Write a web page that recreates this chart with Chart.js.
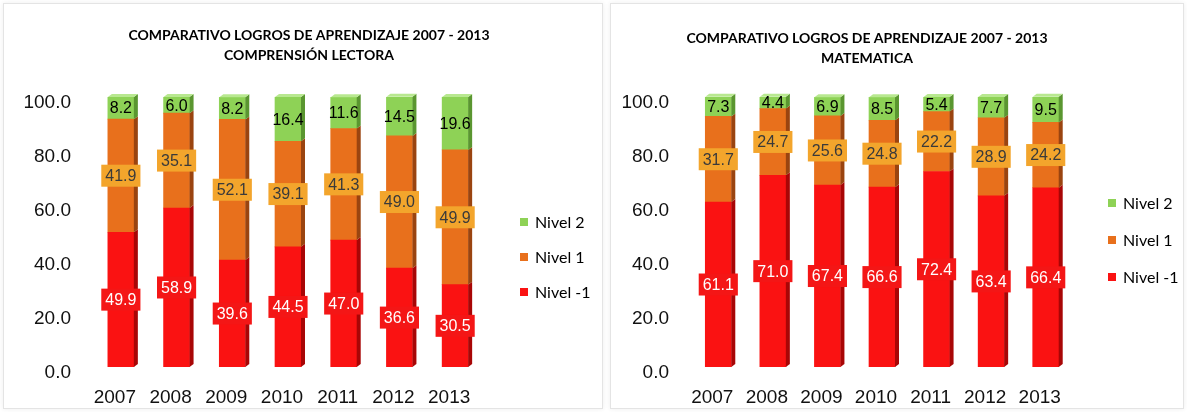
<!DOCTYPE html>
<html lang="es">
<head>
<meta charset="utf-8">
<title>Comparativo logros de aprendizaje 2007 - 2013</title>
<script src="https://cdn.jsdelivr.net/npm/chart.js@4.4.1/dist/chart.umd.min.js"></script>
<style>
  html, body { margin: 0; padding: 0; background: #fff; }
  body { width: 1187px; height: 412px; position: relative; overflow: hidden; }
  .marco { position: absolute; border: 1px solid #e4e4e4; box-shadow: 0 0 5px rgba(0,0,0,0.07); background: #fff; }
  .grafico { position: absolute; top: 0; height: 412px; }
</style>
</head>
<body>
<div class="marco" style="left:3px; top:3px; width:598px; height:404px;"></div>
<div class="marco" style="left:610px; top:3px; width:572px; height:404px;"></div>
<div class="grafico" style="left:0; width:605px;"><canvas id="lectura"></canvas></div>
<div class="grafico" style="left:605px; width:582px;"><canvas id="matematica"></canvas></div>

<script>
// datos
const anios = ['2007', '2008', '2009', '2010', '2011', '2012', '2013'];
const marcasY = [0, 20, 40, 60, 80, 100];
const nombresNivel = ['Nivel -1', 'Nivel 1', 'Nivel 2'];

const lecturaNivelMenos1 = [49.9, 58.9, 39.6, 44.5, 47.0, 36.6, 30.5];
const lecturaNivel1 = [41.9, 35.1, 52.1, 39.1, 41.3, 49.0, 49.9];
const lecturaNivel2 = [8.2, 6.0, 8.2, 16.4, 11.6, 14.5, 19.6];

const mateNivelMenos1 = [61.1, 71.0, 67.4, 66.6, 72.4, 63.4, 66.4];
const mateNivel1 = [31.7, 24.7, 25.6, 24.8, 22.2, 28.9, 24.2];
const mateNivel2 = [7.3, 4.4, 6.9, 8.5, 5.4, 7.7, 9.5];

const tituloLectura = ['COMPARATIVO LOGROS DE APRENDIZAJE 2007 - 2013', 'COMPRENSIÓN LECTORA'];
const tituloMate = ['COMPARATIVO LOGROS DE APRENDIZAJE 2007 - 2013', 'MATEMATICA'];

// colores por nivel (-1, 1, 2)
const colorFrente = ['#FA1212', '#E8701C', '#8ED256'];
const colorLado = ['#A80606', '#9A4410', '#5A9630'];
const colorTapa = ['#FF6060', '#F2A060', '#B8E890'];
const colorCaja = ['#F41616', '#F3A52C', null];
const colorTexto = ['#FFFFFF', '#3A3A3A', '#000000'];

// caras laterales tipo 3D
const caras3D = {
    id: 'caras3D',
    afterDatasetsDraw(chart) {
        const ctx = chart.ctx;
        const dx = 4, dy = 3;
        const ultimo = chart.data.datasets.length - 1;
        ctx.save();
        chart.data.datasets.forEach((ds, i) => {
            chart.getDatasetMeta(i).data.forEach(el => {
                const der = el.x + el.width / 2;
                const izq = el.x - el.width / 2;
                const arriba = Math.min(el.y, el.base);
                const abajo = Math.max(el.y, el.base);
                ctx.fillStyle = colorLado[i];
                ctx.beginPath();
                ctx.moveTo(der, arriba);
                ctx.lineTo(der + dx, arriba - dy);
                ctx.lineTo(der + dx, abajo - dy);
                ctx.lineTo(der, abajo);
                ctx.closePath();
                ctx.fill();
                if (i === ultimo) {
                    ctx.fillStyle = colorTapa[i];
                    ctx.beginPath();
                    ctx.moveTo(izq, arriba);
                    ctx.lineTo(izq + dx, arriba - dy);
                    ctx.lineTo(der + dx, arriba - dy);
                    ctx.lineTo(der, arriba);
                    ctx.closePath();
                    ctx.fill();
                }
            });
        });
        ctx.restore();
    }
};

// etiquetas de valor en el centro de cada segmento
const etiquetas = {
    id: 'etiquetas',
    afterDatasetsDraw(chart) {
        const ctx = chart.ctx;
        ctx.save();
        ctx.font = '16px "Liberation Sans", Arial, sans-serif';
        ctx.textAlign = 'center';
        ctx.textBaseline = 'middle';
        chart.data.datasets.forEach((ds, i) => {
            chart.getDatasetMeta(i).data.forEach((el, j) => {
                const texto = ds.data[j].toFixed(1);
                const cx = el.x;
                const cy = (el.y + el.base) / 2;
                const ancho = ctx.measureText(texto).width + 8;
                if (colorCaja[i]) {
                    ctx.fillStyle = colorCaja[i];
                    ctx.fillRect(cx - ancho / 2, cy - 11, ancho, 22);
                }
                ctx.fillStyle = colorTexto[i];
                ctx.fillText(texto, cx, cy + 1);
            });
        });
        ctx.restore();
    }
};

// titulo de dos lineas y leyenda lateral
const rotulos = {
    id: 'rotulos',
    afterDraw(chart, args, opts) {
        const ctx = chart.ctx;
        ctx.save();
        ctx.fillStyle = '#000';
        ctx.textAlign = 'center';
        ctx.textBaseline = 'middle';
        ctx.font = 'bold 14px Lato, "Liberation Sans", sans-serif';
        opts.titulo.forEach((linea, k) => ctx.fillText(linea, opts.tituloX, opts.tituloY + k * 20));

        ctx.textAlign = 'left';
        ctx.font = '16px Lato, "Liberation Sans", sans-serif';
        const orden = [2, 1, 0];
        orden.forEach((n, k) => {
            const y = opts.leyendaY + k * opts.leyendaPaso;
            ctx.fillStyle = colorFrente[n];
            ctx.fillRect(opts.leyendaX, y - 4, 8, 8);
            ctx.fillStyle = '#000';
            ctx.fillText(chart.data.datasets[n].label, opts.leyendaX + 15, y + 1);
        });
        ctx.restore();
    }
};

function crearGrafico(idCanvas, titulo, nivelM1, nivel1, nivel2, disp) {
    const series = [nivelM1, nivel1, nivel2];
    new Chart(document.getElementById(idCanvas), {
        type: 'bar',
        data: {
            labels: anios,
            datasets: series.map((datos, i) => ({
                label: nombresNivel[i],
                data: datos,
                backgroundColor: colorFrente[i],
                borderWidth: 0,
                barThickness: 26
            }))
        },
        options: {
            responsive: true,
            maintainAspectRatio: false,
            animation: false,
            layout: { padding: { top: 97, right: disp.derecha, bottom: 0, left: 0 } },
            plugins: {
                legend: { display: false },
                tooltip: { enabled: false },
                rotulos: disp.rotulos
            },
            scales: {
                x: {
                    stacked: true,
                    grid: { display: false, drawTicks: false },
                    border: { display: false },
                    afterFit: s => { s.height = 45; },
                    ticks: {
                        padding: 19,
                        labelOffset: -6,
                        color: '#111',
                        font: { family: '"Liberation Sans", Arial, sans-serif', size: 19 }
                    }
                },
                y: {
                    stacked: true,
                    min: 0,
                    max: 100,
                    grid: { display: false, drawTicks: false },
                    border: { display: false },
                    afterFit: s => { s.width = disp.ejeY; },
                    afterBuildTicks: s => { s.ticks = marcasY.map(v => ({ value: v })); },
                    ticks: {
                        padding: 22,
                        labelOffset: 6,
                        color: '#111',
                        font: { family: '"Liberation Sans", Arial, sans-serif', size: 19 },
                        callback: v => v.toFixed(1)
                    }
                }
            }
        },
        plugins: [caras3D, etiquetas, rotulos]
    });
}

crearGrafico('lectura', tituloLectura, lecturaNivelMenos1, lecturaNivel1, lecturaNivel2, {
    derecha: 122,
    ejeY: 93,
    rotulos: { titulo: tituloLectura, tituloX: 309, tituloY: 35, leyendaX: 520, leyendaY: 222, leyendaPaso: 35 }
});

crearGrafico('matematica', tituloMate, mateNivelMenos1, mateNivel1, mateNivel2, {
    derecha: 114,
    ejeY: 86,
    rotulos: { titulo: tituloMate, tituloX: 262, tituloY: 38, leyendaX: 503, leyendaY: 203, leyendaPaso: 37 }
});
</script>
</body>
</html>
